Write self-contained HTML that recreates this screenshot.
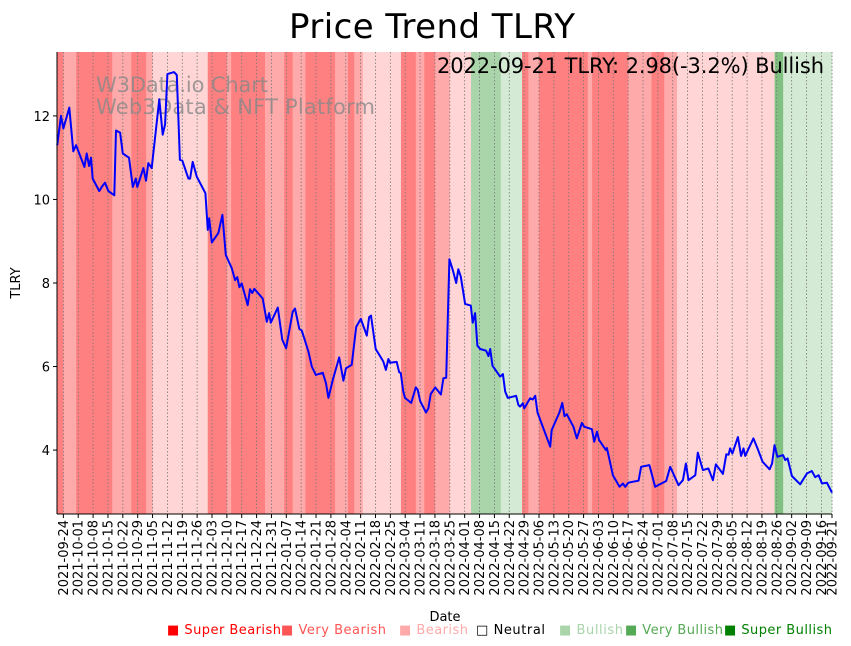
<!DOCTYPE html>
<html><head><meta charset="utf-8"><style>
body{margin:0;background:#fff;font-family:"Liberation Sans","DejaVu Sans",sans-serif}
svg{display:block}
</style></head><body>
<svg id="chart" width="851" height="646" viewBox="0 0 851 646" xmlns="http://www.w3.org/2000/svg" font-family="DejaVu Sans, Liberation Sans, sans-serif">
<g id="bands"></g>
<g id="grid"></g>
<text x="96" y="92" font-size="21" textLength="172" fill="#888" fill-opacity="0.8">W3Data.io Chart</text>
<text x="96" y="114" font-size="21" textLength="279" fill="#888" fill-opacity="0.8">Web3Data &amp; NFT Platform</text>
<path id="line" fill="none" stroke="#0000ff" stroke-width="2" stroke-linejoin="round"/>
<text x="824" y="73" font-size="21" text-anchor="end" textLength="387" fill="#000">2022-09-21 TLRY: 2.98(-3.2%) Bullish</text>
<line x1="57" y1="52" x2="57" y2="514" stroke="#000"/>
<line x1="57" y1="514" x2="832" y2="514" stroke="#000"/>
<g id="yticks"></g>
<g id="xticks"></g>
<text x="432" y="38" font-size="34" text-anchor="middle" textLength="286">Price Trend TLRY</text>
<text transform="translate(20,283) rotate(-90)" font-size="13" text-anchor="middle">TLRY</text>
<text x="445" y="621" font-size="13" text-anchor="middle">Date</text>
<g font-size="13">
<text x="167" y="634" textLength="114" fill="#ff0000">■ Super Bearish</text>
<text x="281" y="634" textLength="105" fill="#ff5555">■ Very Bearish</text>
<text x="399" y="634" textLength="69" fill="#ffaaaa">■ Bearish</text>
<text x="476" y="634" textLength="69" fill="#000">□ Neutral</text>
<text x="559" y="634" textLength="64" fill="#aad4aa">■ Bullish</text>
<text x="625" y="634" textLength="98" fill="#55aa55">■ Very Bullish</text>
<text x="724" y="634" textLength="108" fill="#008000">■ Super Bullish</text>
</g>
</svg>
<script>
// days since 2021-09-21
const days=[0.1,1.9,3.0,5.8,7.7,9.0,12.9,14.0,15.1,16.0,16.8,19.9,21.1,22.6,24.2,27.0,27.8,29.7,31.0,33.9,35.7,37.1,37.8,40.7,41.9,43.0,44.6,48.2,49.8,50.9,52.0,55.1,56.4,57.9,59.0,61.9,62.7,63.9,65.8,69.9,71.0,71.7,72.9,76.0,77.9,79.5,82.3,83.9,84.9,85.9,87.0,89.8,90.9,92.0,92.9,96.9,98.8,99.9,100.7,104.0,106.1,107.9,111.0,112.1,114.1,115.3,118.4,120.0,121.9,125.2,126.7,127.8,129.9,132.9,134.9,136.1,138.8,140.9,143.1,145.9,147.0,147.9,150.1,153.7,154.9,156.1,156.9,160.0,161.1,161.9,163.1,163.9,166.8,169.0,169.9,171.0,173.8,174.9,176.0,178.1,180.8,182.0,183.3,184.8,186.4,188.0,189.0,190.2,192.2,194.9,195.8,196.9,198.0,199.3,202.1,203.2,204.0,205.1,208.7,210.0,211.1,212.3,216.2,217.3,218.1,219.4,220.1,222.8,224.1,225.2,226.3,232.3,233.0,236.6,238.0,239.0,240.1,243.2,244.8,247.2,248.3,251.9,253.0,254.3,255.3,258.5,259.0,261.8,264.9,266.5,267.6,269.1,273.9,275.1,279.0,281.7,286.9,288.8,289.9,292.7,294.8,296.2,297.4,300.6,301.8,304.2,306.8,308.9,310.3,313.6,315.2,316.3,317.0,318.1,320.7,322.2,323.3,324.1,328.0,329.9,332.3,335.6,336.8,337.9,339.3,341.9,343.0,344.1,346.1,350.0,353.2,355.5,357.1,358.7,360.3,362.6,365.0];
const prices=[11.3,12.0,11.7,12.2,11.15,11.3,10.78,11.1,10.8,11.0,10.5,10.2,10.3,10.4,10.2,10.1,11.65,11.6,11.1,11.0,10.3,10.5,10.3,10.75,10.45,10.87,10.75,12.4,11.55,11.8,13.0,13.05,12.98,10.95,10.93,10.5,10.5,10.9,10.55,10.15,9.27,9.55,8.97,9.2,9.63,8.67,8.36,8.07,8.14,7.9,7.99,7.47,7.85,7.76,7.86,7.63,7.07,7.28,7.05,7.41,6.64,6.44,7.31,7.39,6.9,6.86,6.36,6.0,5.8,5.85,5.6,5.25,5.68,6.22,5.66,5.96,6.04,6.95,7.14,6.74,7.18,7.22,6.42,6.12,5.92,6.18,6.09,6.11,5.87,5.84,5.4,5.25,5.13,5.5,5.44,5.18,4.9,5.0,5.34,5.5,5.33,5.72,5.73,8.57,8.31,8.0,8.33,8.15,7.5,7.46,7.05,7.28,6.5,6.42,6.38,6.25,6.42,6.02,5.76,5.82,5.4,5.25,5.3,5.08,5.04,5.12,5.0,5.24,5.21,5.3,4.9,4.08,4.48,4.9,5.13,4.81,4.86,4.56,4.28,4.65,4.56,4.5,4.2,4.44,4.24,4.0,4.05,3.4,3.12,3.2,3.12,3.22,3.27,3.6,3.64,3.12,3.26,3.6,3.48,3.16,3.28,3.68,3.28,3.4,3.94,3.52,3.56,3.28,3.66,3.43,3.9,3.89,4.04,3.92,4.31,3.86,4.04,3.86,4.28,4.04,3.72,3.54,3.68,4.12,3.84,3.88,3.76,3.8,3.38,3.18,3.44,3.5,3.35,3.4,3.2,3.22,2.98];
const bandStarts=[0,3,9,26,29,35,42,45,71,80,82,98,107,111,117,131,137,140,144,162,169,173,178,185,195,209,219,222,227,243,250,252,269,280,286,292,338,342];
const bandEnds=[3,9,26,29,35,42,45,71,80,82,98,107,111,117,131,137,140,144,162,169,173,178,185,195,209,219,222,227,243,250,252,269,280,286,292,338,342,365];
const bandLevels=[-3,-2,-3,-2,-2,-3,-2,-1,-3,-2,-3,-2,-3,-2,-3,-2,-3,-2,-1,-3,-2,-3,-2,-1,2,1,-3,-2,-3,-3,-2,-3,-2,-3,-2,-1,3,1];
const yTicks=[4,6,8,10,12];
const tickStart=Date.UTC(2021,8,24), startMs=Date.UTC(2021,8,21);
const levelColor={"-3":"#ff8080","-2":"#ffaaaa","-1":"#ffd5d5","1":"#d4ead4","2":"#aad4aa","3":"#80c080"};
const X0=57,X1=832,Y0=514,Y1=52,D=365,VMIN=2.47,VMAX=13.53;
const xs=d=>X0+(d/D)*(X1-X0);
const ys=v=>Y0-(v-VMIN)/(VMAX-VMIN)*(Y0-Y1);
const NS="http://www.w3.org/2000/svg";
function mk(tag,attrs,parent){const e=document.createElementNS(NS,tag);for(const k in attrs)e.setAttribute(k,attrs[k]);parent.appendChild(e);return e;}
const bands=document.getElementById('bands');
bandStarts.forEach((s,i)=>{
 const r=mk('rect',{x:xs(s),y:Y1,width:xs(bandEnds[i])-xs(s)+0.3,height:Y0-Y1,fill:levelColor[bandLevels[i]]},bands);
 
 
});
const grid=document.getElementById('grid'),xt=document.getElementById('xticks');
const tickDays=[];
for(let t=tickStart;t<=Date.UTC(2022,8,16);t+=7*86400000)tickDays.push(t);
tickDays.push(Date.UTC(2022,8,21));
tickDays.forEach(t=>{
 const d=(t-startMs)/86400000,x=xs(d);
 const g=mk('line',{x1:x,x2:x,y1:Y1,y2:Y0,stroke:'#777','stroke-width':0.8,'stroke-dasharray':'1.5,2'},grid);
 
 
 mk('line',{x1:x,x2:x,y1:Y0,y2:Y0+4,stroke:'#000'},xt);
 const lab=new Date(t).toISOString().slice(0,10);
 const tx=mk('text',{transform:`translate(${x+4.5},${Y0+6}) rotate(-90)`,'font-size':13,'text-anchor':'end'},xt);
 tx.textContent=lab;
 
 
});
const yt=document.getElementById('yticks');
yTicks.forEach(v=>{
 const y=ys(v);
 mk('line',{x1:X0-4,x2:X0,y1:y,y2:y,stroke:'#000'},yt);
 const tx=mk('text',{x:X0-7,y:y+5,'font-size':13,'text-anchor':'end'},yt);
 tx.textContent=v;
 
 
});
document.getElementById('line').setAttribute('d',days.map((d,i)=>(i?'L':'M')+xs(d).toFixed(1)+','+ys(prices[i]).toFixed(1)).join(''));
</script>
</body></html>
